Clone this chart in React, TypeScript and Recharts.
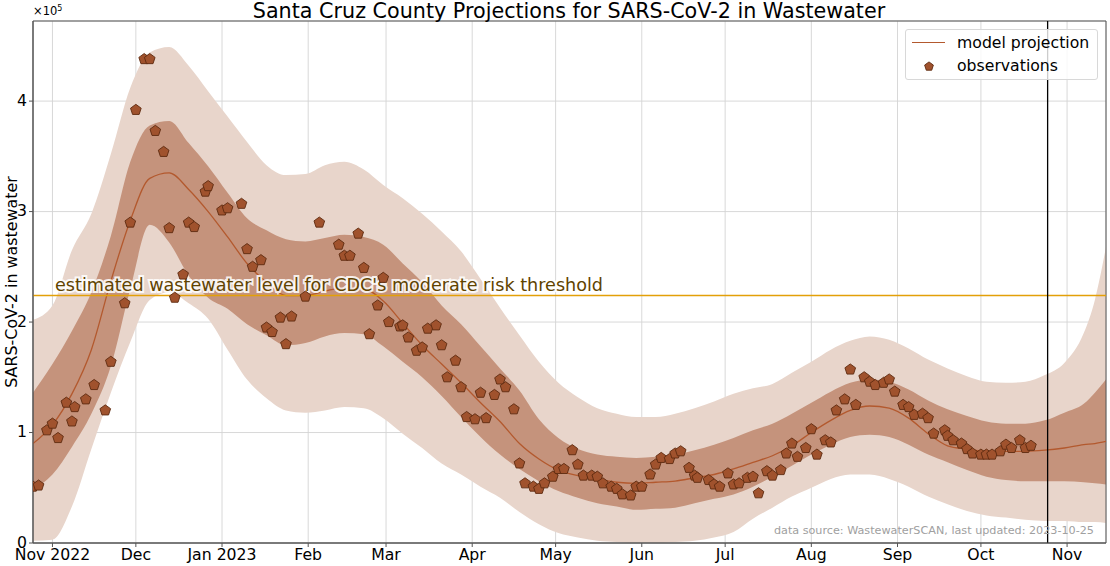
import React from "react";
import {
  ComposedChart,
  Area,
  Line,
  Scatter,
  XAxis,
  YAxis,
  CartesianGrid,
  ReferenceLine,
  ReferenceArea,
} from "recharts";

// x values are days since 2022-10-25, y values are in units of 10^5
const projDays = [
  0, 7, 14, 21, 28, 35, 42, 49, 56, 63, 70, 77, 84, 91, 98, 105, 112, 119, 126,
  133, 140, 147, 154, 161, 168, 175, 182, 189, 196, 203, 210, 217, 224, 231, 238,
  245, 252, 259, 266, 273, 280, 287, 294, 301, 308, 315, 322, 329, 336, 343, 350,
  357, 364, 371, 378, 382, 386,
];
const median = [
  0.9, 1.07, 1.35, 1.75, 2.37, 2.92, 3.3, 3.35, 3.2, 3.0, 2.77, 2.53, 2.36, 2.24,
  2.24, 2.28, 2.31, 2.3, 2.19, 1.99, 1.79, 1.62, 1.45, 1.27, 1.1, 0.9, 0.76, 0.66,
  0.61, 0.58, 0.55, 0.54, 0.55, 0.56, 0.59, 0.62, 0.67, 0.73, 0.79, 0.88, 1.0,
  1.11, 1.2, 1.24, 1.22, 1.13, 0.99, 0.88, 0.85, 0.83, 0.83, 0.83, 0.84, 0.86,
  0.89, 0.9, 0.92,
];
const innerLow = [
  0.48, 0.62, 0.87, 1.17, 1.6, 2.3, 2.88, 2.72, 2.42, 2.22, 2.12, 1.98, 1.88,
  1.79, 1.81, 1.87, 1.9, 1.89, 1.78, 1.64, 1.5, 1.33, 1.14, 0.96, 0.8, 0.67, 0.56,
  0.47, 0.41, 0.36, 0.33, 0.3, 0.31, 0.32, 0.36, 0.4, 0.44, 0.51, 0.6, 0.7, 0.8,
  0.89, 0.96, 0.98, 0.96, 0.89, 0.8, 0.73, 0.66, 0.6, 0.57, 0.56, 0.56, 0.56,
  0.55, 0.54, 0.53,
];
const innerHigh = [
  1.36, 1.62, 1.92, 2.27, 2.78, 3.45, 3.78, 3.82, 3.62, 3.41, 3.17, 2.94, 2.83,
  2.75, 2.73, 2.76, 2.79, 2.77, 2.7, 2.53, 2.36, 2.15, 1.98, 1.78, 1.58, 1.38,
  1.12, 0.95, 0.85, 0.8, 0.78, 0.77, 0.78, 0.8, 0.84, 0.89, 0.95, 1.02, 1.08,
  1.17, 1.27, 1.37, 1.45, 1.48, 1.46, 1.39, 1.29, 1.21, 1.15, 1.1, 1.08, 1.08,
  1.11, 1.18, 1.26, 1.36, 1.48,
];
const outerLow = [
  0.02, 0.03, 0.33, 0.85, 1.36, 1.82, 2.2, 2.27, 2.17, 2.03, 1.75, 1.48, 1.31,
  1.2, 1.18, 1.2, 1.23, 1.22, 1.13, 0.99, 0.86, 0.72, 0.62, 0.51, 0.41, 0.28,
  0.17, 0.09, 0.05, 0.02, 0.01, 0.0, 0.0, 0.01, 0.02, 0.05, 0.1, 0.22, 0.32,
  0.42, 0.5, 0.58, 0.62, 0.62, 0.58, 0.51, 0.42, 0.35, 0.29, 0.25, 0.23, 0.21,
  0.2, 0.2, 0.19, 0.19, 0.18,
];
const outerHigh = [
  2.02, 2.15, 2.65, 2.98, 3.52, 4.12, 4.44, 4.49, 4.32, 4.09, 3.86, 3.63, 3.42,
  3.33, 3.34, 3.42, 3.45, 3.38, 3.24, 3.12, 2.98, 2.82, 2.64, 2.39, 2.13, 1.88,
  1.64, 1.45, 1.32, 1.22, 1.17, 1.14, 1.14, 1.17, 1.22, 1.28, 1.35, 1.4, 1.44,
  1.54, 1.64, 1.75, 1.83, 1.87, 1.84, 1.76, 1.66, 1.58, 1.51, 1.46, 1.45, 1.46,
  1.52, 1.63, 1.9, 2.2, 2.68,
];

const obsDays = [
  0, 2, 5, 7, 9, 12, 14, 15, 19, 22, 26, 28, 33, 35, 37, 40, 42, 44, 47, 49, 51,
  54, 56, 58, 62, 63, 68, 70, 75, 77, 79, 82, 84, 86, 89, 91, 93, 98, 103, 110,
  112, 114, 117, 119, 121, 124, 126, 128, 132, 133, 135, 138, 140, 142, 145, 147,
  149, 152, 154, 156, 159, 161, 163, 166, 168, 170, 173, 175, 177, 180, 182, 184,
  187, 189, 191, 194, 196, 198, 201, 203, 205, 208, 210, 212, 215, 217, 219, 222,
  224, 226, 229, 231, 233, 236, 238, 239, 243, 245, 247, 250, 252, 254, 257, 259,
  261, 264, 266, 269, 271, 273, 275, 278, 280, 282, 285, 287, 289, 292, 294, 296,
  299, 301, 303, 306, 308, 310, 313, 315, 317, 320, 322, 324, 328, 329, 331, 334,
  336, 338, 341, 343, 345, 348, 350, 352, 355, 357, 359,
];
const obsValues = [
  0.51, 0.52, 1.02, 1.08, 0.95, 1.27, 1.1, 1.23, 1.3, 1.43, 1.2, 1.64, 2.17, 2.9,
  3.92, 4.38, 4.38, 3.73, 3.54, 2.85, 2.22, 2.43, 2.9, 2.86, 3.18, 3.23, 3.01,
  3.03, 3.07, 2.66, 2.5, 2.56, 1.95, 1.91, 2.04, 1.8, 2.05, 2.23, 2.9, 2.7, 2.6,
  2.6, 2.8, 2.49, 1.89, 2.15, 2.4, 2.0, 1.96, 1.97, 1.86, 1.74, 1.77, 1.94, 1.97,
  1.79, 1.5, 1.65, 1.41, 1.14, 1.12, 1.36, 1.13, 1.34, 1.48, 1.41, 1.21, 0.72,
  0.54, 0.51, 0.49, 0.54, 0.6, 0.67, 0.67, 0.84, 0.71, 0.61, 0.61, 0.6, 0.54,
  0.51, 0.49, 0.44, 0.43, 0.51, 0.51, 0.62, 0.71, 0.77, 0.76, 0.81, 0.83, 0.68,
  0.61, 0.59, 0.57, 0.53, 0.51, 0.63, 0.53, 0.54, 0.59, 0.6, 0.45, 0.65, 0.61,
  0.66, 0.81, 0.9, 0.78, 0.86, 1.03, 0.8, 0.93, 0.91, 1.2, 1.3, 1.57, 1.25, 1.5,
  1.46, 1.43, 1.45, 1.48, 1.37, 1.25, 1.23, 1.16, 1.17, 1.13, 0.99, 1.02, 0.97,
  0.93, 0.9, 0.85, 0.81, 0.8, 0.8, 0.8, 0.83, 0.89, 0.86, 0.93, 0.86, 0.88,
];

const monthTicks = [7, 37, 68, 99, 127, 158, 188, 219, 249, 280, 311, 341, 372];
const monthLabels = [
  "Nov 2022", "Dec", "Jan 2023", "Feb", "Mar", "Apr", "May", "Jun", "Jul", "Aug",
  "Sep", "Oct", "Nov",
];
const yTicks = [0, 1, 2, 3, 4];

const THRESHOLD = 2.24;
const LAST_UPDATED_DAY = 365;
const X_MAX = 386;
const Y_MAX = 4.725;

const projection = projDays.map((day, i) => ({
  day,
  median: median[i],
  inner: [innerLow[i], innerHigh[i]],
  outer: [outerLow[i], outerHigh[i]],
}));
const observations = obsDays.map((day, i) => ({ day, obs: obsValues[i] }));

const FONT = "'DejaVu Sans', sans-serif";
const SIENNA = "#a0522d";

function Pentagon(props: any) {
  const { cx, cy } = props;
  if (cx == null || cy == null) return null;
  const r = props.r ?? 5.6;
  const pts = [0, 1, 2, 3, 4]
    .map((k) => {
      const a = -Math.PI / 2 + (k * 2 * Math.PI) / 5;
      return `${cx + r * Math.cos(a)},${cy + r * Math.sin(a)}`;
    })
    .join(" ");
  return <polygon points={pts} fill={SIENNA} stroke="#5e2a10" strokeWidth={0.9} />;
}

function ThresholdLabel(props: any) {
  const vb = props.viewBox || {};
  return (
    <text
      x={(vb.x ?? 0) + 22}
      y={(vb.y ?? 0) - 5}
      fontSize={17.6}
      fontFamily={FONT}
      fill="#5f4300"
      stroke="#ffffff"
      strokeWidth={4}
      strokeOpacity={0.85}
      paintOrder="stroke"
    >
      estimated wastewater level for CDC's moderate risk threshold
    </text>
  );
}

export default function App() {
  return (
    <div
      style={{
        position: "absolute",
        left: 0,
        top: 0,
        width: 1110,
        height: 566,
        fontFamily: FONT,
        background: "#fff",
      }}
    >
      <ComposedChart
        width={1110}
        height={566}
        data={projection}
        margin={{ top: 21, right: 4, bottom: 0, left: 0 }}
      >
        <XAxis
          dataKey="day"
          type="number"
          domain={[0, X_MAX]}
          ticks={monthTicks}
          tickFormatter={(v: number) => monthLabels[monthTicks.indexOf(v)]}
          allowDataOverflow
          height={23}
          tickSize={4}
          tick={{ fill: "#000", fontSize: 15.7, fontFamily: FONT }}
          stroke="#555"
        />
        <YAxis
          type="number"
          domain={[0, Y_MAX]}
          ticks={yTicks}
          allowDataOverflow
          width={33}
          tickSize={4}
          tick={{ fill: "#000", fontSize: 15.7, fontFamily: FONT, dy: -1 }}
          stroke="#555"
        />
        <Area
          dataKey="outer"
          type="monotone"
          stroke="none"
          fill="#e8d5cb"
          fillOpacity={1}
          isAnimationActive={false}
        />
        <Area
          dataKey="inner"
          type="monotone"
          stroke="none"
          fill="#c5937c"
          fillOpacity={1}
          isAnimationActive={false}
        />
        <CartesianGrid stroke="#d4d4d4" strokeOpacity={0.9} />
        <Line
          dataKey="median"
          type="monotone"
          stroke="#b3592e"
          strokeWidth={1.3}
          dot={false}
          isAnimationActive={false}
        />
        <ReferenceLine
          y={THRESHOLD}
          stroke="#e3a008"
          strokeWidth={1.6}
          label={<ThresholdLabel />}
        />
        <ReferenceLine x={LAST_UPDATED_DAY} stroke="#000" strokeWidth={1.3} />
        <Scatter
          data={observations}
          dataKey="obs"
          shape={<Pentagon />}
          isAnimationActive={false}
        />
        <ReferenceArea
          x1={0}
          x2={X_MAX}
          y1={0}
          y2={Y_MAX}
          fill="none"
          stroke="#555"
          strokeWidth={1}
        />
      </ComposedChart>

      <div
        style={{
          position: "absolute",
          left: 569,
          top: 0,
          transform: "translateX(-50%)",
          fontSize: 20.7,
          lineHeight: "22px",
          whiteSpace: "nowrap",
          color: "#000",
        }}
      >
        Santa Cruz County Projections for SARS-CoV-2 in Wastewater
      </div>
      <div
        style={{
          position: "absolute",
          left: 33,
          top: 4,
          fontSize: 11.5,
          lineHeight: "14px",
          color: "#000",
        }}
      >
        ×10<sup style={{ fontSize: 8, verticalAlign: "top", lineHeight: "10px" }}>5</sup>
      </div>
      <div
        style={{
          position: "absolute",
          left: 11,
          top: 282,
          transform: "translate(-50%, -50%) rotate(-90deg)",
          fontSize: 15.9,
          whiteSpace: "nowrap",
          color: "#000",
        }}
      >
        SARS-CoV-2 in wastewater
      </div>
      <div
        style={{
          position: "absolute",
          right: 1110 - 1094,
          top: 524,
          fontSize: 11.2,
          lineHeight: "14px",
          whiteSpace: "nowrap",
          color: "#a0a0a0",
        }}
      >
        data source: WastewaterSCAN, last updated: 2023-10-25
      </div>
      <div
        style={{
          position: "absolute",
          left: 905,
          top: 29,
          width: 193,
          height: 51,
          boxSizing: "border-box",
          border: "1px solid #d8d8d8",
          borderRadius: 3,
          background: "rgba(255,255,255,0.8)",
          fontSize: 15.7,
          color: "#000",
        }}
      >
        <div style={{ position: "absolute", left: 6, top: 12, width: 33, height: 0, borderTop: "1.3px solid #b3592e" }} />
        <div style={{ position: "absolute", left: 51, top: 3, whiteSpace: "nowrap", lineHeight: "20px" }}>
          model projection
        </div>
        <svg style={{ position: "absolute", left: 17, top: 30 }} width={12} height={12}>
          <Pentagon cx={6} cy={6.5} r={4.6} />
        </svg>
        <div style={{ position: "absolute", left: 51, top: 26, whiteSpace: "nowrap", lineHeight: "20px" }}>
          observations
        </div>
      </div>
    </div>
  );
}
